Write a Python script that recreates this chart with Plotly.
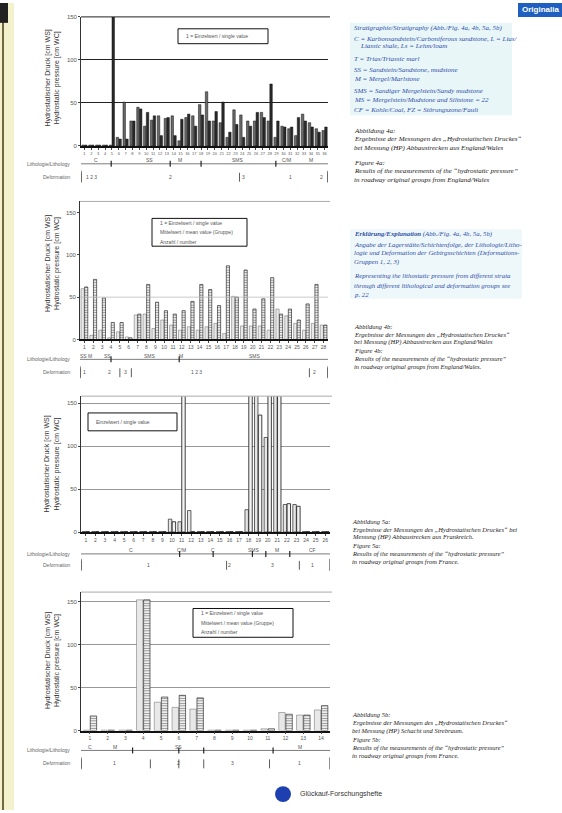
import plotly.graph_objects as go

W, H = 562, 813
def px(x): return x / W
def py(y): return 1 - y / H

# ---------------- data ----------------
# Abb. 4a (England/Wales, roadway groups)
c1_cats = list(range(1, 37))
c1_a = [1, 1, 1, 1, 1, 10, 51, 29, 45, 23, 30, 35, 32, 35, 6, 33, 35, 48, 63, 29, 27, 10, 42, 36,
        29, 29, 39, 29, 10, 23, 20, 12, 37, 27, 20, 18]
c1_b = [1, 1, 1, 1, 200, 8, 8, 29, 43, 39, 35, 12, 33, 12, 31, 37, 23, 36, 29, 40, 51, 16, 25, 10,
        23, 39, 33, 72, 29, 22, 22, 33, 29, 22, 16, 22]

# Abb. 4b
c2_cats = list(range(1, 29))
c2_a = [60, 5, 11, 2, 9, 3, 29, 30, 13, 23, 17, 11, 15, 11, 15, 19, 7, 51, 16, 16, 16, 11, 36, 28, 19, 11, 19, 17]
c2_b = [62, 71, 49, 20, 20, 2, 30, 65, 44, 34, 30, 34, 45, 65, 59, 40, 87, 50, 82, 36, 48, 73, 30, 36, 23, 42, 65, 17]

# Abb. 5a (France)
c3_cats = list(range(1, 27))
c3_a = [0.5, 0.5, 0.5, 0.5, 0.5, 0.5, 0.5, 0.5, 0.5, 15, 12, 25, 0.5, 0.5, 0.5, 0.5, 0.5,
        26, 200, 110, 200, 32, 32, 0.5, 0.5, 0.5]
c3_b = [0.5, 0.5, 0.5, 0.5, 0.5, 0.5, 0.5, 0.5, 0.5, 12, 200, 0.5, 0.5, 0.5, 0.5, 0.5, 0.5,
        200, 136, 200, 200, 33, 30, 0.5, 0.5, 0.5]

# Abb. 5b (France)
c4_cats = list(range(1, 15))
c4_a = [0.5, 0.5, 0.5, 152, 33, 27, 25, 0.5, 0.5, 0.5, 2, 21, 18, 24]
c4_b = [17, 0.5, 0.5, 152, 39, 41, 38, 0.5, 0.5, 0.5, 2, 19, 18, 29]

y_ticks = [0, 50, 100, 150]
y_title = "Hydrostatischer Druck [cm WS]<br>Hydrostatic pressure [cm WC]"

# lithology / deformation rows (category positions and labels)
rows = {
    1: dict(lith_marks=[4.9, 13.5, 18, 28.9],
            lith_labels=[(2.7, "C"), (10.5, "SS"), (15, "M"), (23.4, "SMS"), (30.5, "C/M"), (34, "M")],
            def_marks=[0.5, 23.6, 36.5],
            def_labels=[(2, "1 2 3"), (13.5, "2"), (24.2, "3"), (31, "1"), (35.5, "2")]),
    2: dict(lith_marks=[4.0, 11.7],
            lith_labels=[(1.2, "SS M"), (3.6, "SS"), (8.4, "SMS"), (11.9, "M"), (20.3, "SMS")],
            def_marks=[0.5, 5.0, 6.3, 26.4, 28.5],
            def_labels=[(1, "1"), (3.8, "2"), (5.6, "3"), (13.7, "1 2 3"), (27, "2")]),
    3: dict(lith_marks=[10.8, 14.3, 18.4, 19.8, 22.3],
            lith_labels=[(5.7, "C"), (11, "C/M"), (14.3, "C"), (18.6, "SMS"), (21, "M"), (24.7, "CF")],
            def_marks=[0.5, 15.7, 23.3],
            def_labels=[(7.5, "1"), (16, "2"), (20.5, "3"), (24.7, "1")]),
    4: dict(lith_marks=[3.4, 6.0, 7.4, 11.3],
            lith_labels=[(1, "C"), (2.4, "M"), (6, "SS"), (12.8, "M")],
            def_marks=[0.5, 4.4, 6.0, 7.4, 11.1],
            def_labels=[(2.4, "1"), (6, "2"), (9, "3"), (12.8, "1")]),
}

# ---------------- geometry ----------------
charts = [
    dict(i=1, cats=c1_cats, a=c1_a, b=c1_b, x0=81, x1=328, y0=144, ymax=150, ppu=130/150,
         rows=(162, 175), leg=(178, 26, 268, 41),
         leg_txt=["1 = Einzelwert / single value"], ycen=75, tfs=4),
    dict(i=2, cats=c2_cats, a=c2_a, b=c2_b, x0=80, x1=328, y0=339, ymax=163, ppu=128/150,
         rows=(359, 372), leg=(152, 217, 247, 245),
         leg_txt=["1 = Einzelwert / single value", "Mittelwert / mean value (Gruppe)", "Anzahl / number"],
         ycen=262, tfs=5),
    dict(i=3, cats=c3_cats, a=c3_a, b=c3_b, x0=81, x1=330, y0=533, ymax=158, ppu=130/150,
         rows=(555, 566), leg=(88, 413, 177, 431),
         leg_txt=["Einzelwert / single value"], ycen=464, tfs=5),
    dict(i=4, cats=c4_cats, a=c4_a, b=c4_b, x0=81, x1=330, y0=733, ymax=161, ppu=130/150,
         rows=(753, 766), leg=(193, 610, 293, 639),
         leg_txt=["1 = Einzelwert / single value", "Mittelwert / mean value (Gruppe)", "Anzahl / number"],
         ycen=662, tfs=5),
]

fig = go.Figure()
shapes, annos = [], []
tickfont = dict(family="Liberation Sans", size=6, color="#555")

hatch = dict(shape="-", fgcolor="#222", bgcolor="white", size=2.5, solidity=0.45)

for c in charts:
    i = c["i"]
    xa = "x" if i == 1 else f"x{i}"
    ya = "y" if i == 1 else f"y{i}"
    top_px = c["y0"] - c["ymax"] * c["ppu"]
    n = len(c["cats"])
    if i == 1:
        sty_a = dict(color="#6a6a6a", line=dict(color="#111", width=0.5))
        sty_b = dict(color="#2a2a2a", line=dict(color="#111", width=0.5))
    elif i == 3:
        sty_a = dict(color="#e6e6e6", line=dict(color="#222", width=0.7))
        sty_b = dict(color="#f4f4f4", line=dict(color="#111", width=0.8))
    else:
        sty_a = dict(color="#e8e8e8", line=dict(color="#666", width=0.5))
        sty_b = dict(color="white", line=dict(color="#111", width=0.6), pattern=hatch)
    fig.add_trace(go.Bar(x=c["cats"], y=c["a"], xaxis=xa, yaxis=ya, marker=sty_a,
                         showlegend=False, hoverinfo="skip"))
    fig.add_trace(go.Bar(x=c["cats"], y=c["b"], xaxis=xa, yaxis=ya, marker=sty_b,
                         showlegend=False, hoverinfo="skip"))

    grid_col = "#222" if i == 1 else "#999"
    fig.update_layout(**{
        ("xaxis" if i == 1 else f"xaxis{i}"): dict(
            domain=[px(c["x0"]), px(c["x1"])], anchor=ya, range=[0.5, n + 0.5],
            tickvals=c["cats"], ticktext=[str(v) for v in c["cats"]], tickangle=0,
            tickfont=dict(family="Liberation Sans", size=c["tfs"], color="#555"),
            ticks="outside", ticklen=2, tickcolor="#444", showline=True, linecolor="#111", linewidth=1.6,
            showgrid=False, zeroline=False, fixedrange=True),
        ("yaxis" if i == 1 else f"yaxis{i}"): dict(
            domain=[py(c["y0"]), py(top_px)], anchor=xa, range=[0, c["ymax"]],
            tickvals=y_ticks, tickfont=tickfont, ticks="outside", ticklen=2, tickcolor="#444",
            showline=True, linecolor="#333", linewidth=0.8,
            showgrid=(i != 2), gridcolor=grid_col, gridwidth=1 if i == 1 else 0.8,
            zeroline=False, fixedrange=True),
    })
    shapes.append(dict(type="line", xref="paper", yref="paper", x0=px(c["x0"]), x1=px(c["x1"] + 2),
                       y0=py(top_px), y1=py(top_px), line=dict(color="#222" if i == 1 else "#aaa", width=1)))
    if i == 2:
        shapes.append(dict(type="line", xref=xa, yref=ya, x0=0.5, x1=n + 0.5, y0=50, y1=50,
                           line=dict(color="#bbb", width=0.8)))
    annos.append(dict(text=y_title, xref="paper", yref="paper", x=px(52), y=py(c["ycen"]),
                      textangle=-90, showarrow=False, font=dict(family="Liberation Sans", size=7, color="#333"),
                      xanchor="center", yanchor="middle"))
    lx0, ly0, lx1, ly1 = c["leg"]
    shapes.append(dict(type="rect", xref="paper", yref="paper", x0=px(lx0), x1=px(lx1), y0=py(ly0), y1=py(ly1),
                       line=dict(color="#111", width=1), fillcolor="white"))
    nl = len(c["leg_txt"])
    for k, t in enumerate(c["leg_txt"]):
        yy = ly0 + (ly1 - ly0) * (k + 0.5) / nl
        annos.append(dict(text=t, xref="paper", yref="paper", x=px(lx0 + 6), y=py(yy), showarrow=False,
                          xanchor="left", yanchor="middle", font=dict(family="Liberation Sans", size=5, color="#555")))
    r = rows[i]
    r1, r2 = c["rows"]
    annos.append(dict(text="Lithologie/Lithology", xref="paper", yref="paper", x=px(72), y=py(r1),
                      showarrow=False, xanchor="right", yanchor="middle",
                      font=dict(family="Liberation Sans", size=5, color="#666")))
    annos.append(dict(text="Deformation", xref="paper", yref="paper", x=px(72), y=py(r2),
                      showarrow=False, xanchor="right", yanchor="middle",
                      font=dict(family="Liberation Sans", size=5, color="#666")))
    shapes.append(dict(type="line", xref=xa, yref="paper", x0=0.5, x1=n + 0.5, y0=py(r1), y1=py(r1),
                       line=dict(color="#444", width=0.7)))
    for m in r["lith_marks"]:
        shapes.append(dict(type="line", xref=xa, yref="paper", x0=m, x1=m, y0=py(r1 - 3), y1=py(r1 + 3),
                           line=dict(color="#222", width=1.2)))
    for xv, t in r["lith_labels"]:
        annos.append(dict(text=t, xref=xa, yref="paper", x=xv, y=py(r1 - 3.5), showarrow=False,
                          xanchor="center", yanchor="middle", font=dict(family="Liberation Sans", size=5, color="#555")))
    for edge in (0.5, n + 0.5):
        shapes.append(dict(type="line", xref=xa, yref="paper", x0=edge, x1=edge, y0=py(r2 - 6), y1=py(r2 + 6),
                           line=dict(color="#222", width=1)))
    for m in r["def_marks"]:
        shapes.append(dict(type="line", xref=xa, yref="paper", x0=m, x1=m, y0=py(r2 - 4), y1=py(r2 + 5),
                           line=dict(color="#333", width=0.8)))
    for xv, t in r["def_labels"]:
        annos.append(dict(text=t, xref=xa, yref="paper", x=xv, y=py(r2), showarrow=False,
                          xanchor="center", yanchor="middle", font=dict(family="Liberation Sans", size=5, color="#555")))

# ---------------- page decoration ----------------
shapes.append(dict(type="rect", xref="paper", yref="paper", x0=0, x1=px(14), y0=0, y1=1,
                   line=dict(width=0), fillcolor="#f4f2cc", layer="below"))
shapes.append(dict(type="line", xref="paper", yref="paper", x0=px(3), x1=px(3), y0=0, y1=1,
                   line=dict(color="#6d6a40", width=2)))
shapes.append(dict(type="rect", xref="paper", yref="paper", x0=0, x1=px(8), y0=py(20), y1=1,
                   line=dict(width=0), fillcolor="#222"))
shapes.append(dict(type="rect", xref="paper", yref="paper", x0=px(518), x1=1, y0=py(14), y1=1,
                   line=dict(width=0), fillcolor="#1f5fbf"))
annos.append(dict(text="<b>Originalia</b>", xref="paper", yref="paper", x=px(540), y=py(7), showarrow=False,
                  xanchor="center", yanchor="middle", font=dict(family="Liberation Sans", size=8, color="white")))
shapes.append(dict(type="rect", xref="paper", yref="paper", x0=px(350), x1=px(512), y0=py(113), y1=py(20),
                   line=dict(width=0), fillcolor="#e9f6f8", layer="below"))
shapes.append(dict(type="rect", xref="paper", yref="paper", x0=px(350), x1=px(522), y0=py(298), y1=py(228),
                   line=dict(width=0), fillcolor="#eef7f9", layer="below"))
shapes.append(dict(type="circle", xref="paper", yref="paper", x0=px(275), x1=px(291), y0=py(805), y1=py(789),
                   line=dict(width=0), fillcolor="#1d3fb0"))

serif = "Liberation Serif"
blue = "#2f4fa8"

def txt(lines, x, ys, size, color, italic=True):
    for t, yv in zip(lines, ys):
        s = f"<i>{t}</i>" if italic else t
        annos.append(dict(text=s, xref="paper", yref="paper", x=px(x), y=py(yv), showarrow=False,
                          xanchor="left", yanchor="middle", font=dict(family=serif, size=size, color=color)))

block1 = [
    "Stratigraphie/Stratigraphy (Abb./Fig. 4a, 4b, 5a, 5b)",
    "C = Karbonsandstein/Carboniferous sandstone, L = Lias/",
    "&nbsp;&nbsp;&nbsp;&nbsp;Liassic shale, Ls = Lehm/loam",
    "T = Trias/Triassic marl",
    "SS = Sandstein/Sandstone, mudstone",
    "M = Mergel/Marlstone",
    "SMS = Sandiger Mergelstein/Sandy mudstone",
    "MS = Mergelstein/Mudstone and Siltstone = 22",
    "CF = Kohle/Coal, FZ = Störungszone/Fault",
]
txt(block1, 352, [25, 36, 43.5, 56, 67, 77, 89, 98, 108], 7, blue)

cap_de = "Ergebnisse der Messungen des „Hydrostatischen Druckes“"
cap_en = "Results of the measurements of the “hydrostatic pressure”"
txt(["Abbildung 4a:", cap_de, "bei Messung (HP) Abbaustrecken aus England/Wales",
     "Figure 4a:", cap_en, "in roadway original groups from England/Wales"],
    352, [129, 137, 146, 161, 169, 178], 7, "#222")

block2 = [
    "<b>Erklärung/Explanation</b> (Abb./Fig. 4a, 4b, 5a, 5b)",
    "Angabe der Lagerstätte/Schichtenfolge, der Lithologie/Litho-",
    "logie und Deformation der Gebirgsschichten (Deformations-",
    "Gruppen 1, 2, 3)",
    "Representing the lithostatic pressure from different strata",
    "through different lithological and deformation groups see",
    "p. 22",
]
txt(block2, 352, [233, 243, 252, 261, 275, 285, 294], 6.8, blue)

txt(["Abbildung 4b:", cap_de, "bei Messung (HP) Abbaustrecken aus England/Wales",
     "Figure 4b:", cap_en, "in roadway original groups from England/Wales."],
    352, [326, 334, 342, 350, 358, 366], 6.5, "#222")

txt(["Abbildung 5a:", "Ergebnisse der Messungen des „Hydrostatischen Druckes“ bei",
     "Messung (HP) Abbaustrecken aus Frankreich.",
     "Figure 5a:", cap_en, "in roadway original groups from France."],
    350, [522, 530, 538, 547, 555, 563], 6.5, "#222")

txt(["Abbildung 5b:", cap_de, "bei Messung (HP) Schacht und Strebraum.",
     "Figure 5b:", cap_en, "in roadway original groups from France."],
    350, [717, 725, 733, 742, 750, 758], 6.5, "#222")

annos.append(dict(text="Glückauf-Forschungshefte", xref="paper", yref="paper", x=px(298), y=py(797),
                  showarrow=False, xanchor="left", yanchor="middle",
                  font=dict(family="Liberation Sans", size=7, color="#333")))

fig.update_layout(
    width=W, height=H, margin=dict(l=0, r=0, t=0, b=0),
    paper_bgcolor="white", plot_bgcolor="white",
    barmode="group", bargap=0.2, bargroupgap=0.1,
    shapes=shapes, annotations=annos, showlegend=False,
)

fig.write_html("out.html", config={"displayModeBar": False},
               post_script="document.body.style.margin='0';document.body.style.overflow='hidden';")
